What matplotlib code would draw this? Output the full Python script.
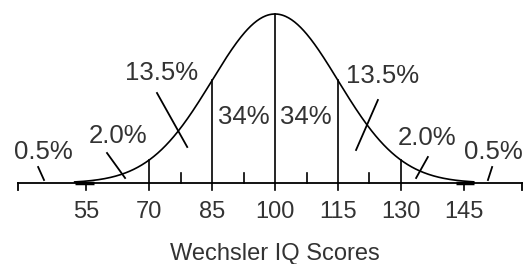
import numpy as np
import matplotlib.pyplot as plt

# distribution
mean = 100
sd = 15
peak = 169  # curve height above the axis, in axis units

# axis ticks
major_ticks = [55, 70, 85, 100, 115, 130, 145]
minor_ticks = [77.5, 92.5, 107.5, 122.5]
drop_lines = [70, 85, 100, 115, 130]

# labels: text, x, y
pct_text = ['0.5%', '2.0%', '13.5%', '34%', '34%', '13.5%', '2.0%', '0.5%']
pct_x = [44.8, 62.6, 72.9, 92.6, 107.3, 125.7, 136.2, 151.9]
pct_y = [31, 47, 110, 66, 66, 107, 45, 31]

# pointer strokes: (x0, y0, x1, y1)
ptr_x0 = [43.6, 60.0, 71.9, 124.5, 136.4, 151.7]
ptr_y0 = [16, 30, 90, 83, 26, 16]
ptr_x1 = [45.0, 64.3, 79.1, 119.3, 133.6, 150.7]
ptr_y1 = [3, 5, 36, 33, 5, 3]

fig = plt.figure(figsize=(5.23, 2.64), dpi=100)
ax = fig.add_axes([0, 0, 1, 1])
ax.set_xlim(34.52, 159.05)
ax.set_ylim(-81, 183)
ax.axis('off')

txt_color = '#333333'

# curve
x = np.linspace(52.3, 147.3, 400)
y = peak * np.exp(-0.5 * ((x - mean) / sd) ** 2)
ax.plot(x, y, color='black', lw=1.2)

# baseline with end ticks
x_left, x_right = 38.8, 158.8
ax.plot([x_left, x_right], [0, 0], color='black', lw=1.3)
ax.plot([x_left, x_left], [0, -7], color='black', lw=1.3)
ax.plot([x_right, x_right], [0, -7], color='black', lw=1.3)
# thicker stretch where the tails sit on the axis
ax.plot([52.3, 57], [0.5, 0.5], color='black', lw=2.5, solid_capstyle='butt')
ax.plot([143, 147.3], [0.5, 0.5], color='black', lw=2.5, solid_capstyle='butt')

# major ticks below the axis
for t in major_ticks:
    ax.plot([t, t], [0, -7], color='black', lw=1.2)
    ax.text(t, -29, str(t), ha='center', va='center', fontsize=17,
            family='Liberation Sans', color=txt_color)

# minor ticks above the axis
for t in minor_ticks:
    ax.plot([t, t], [0, 10], color='black', lw=1.2)

# vertical lines from the curve to the axis
for d in drop_lines:
    top = peak * np.exp(-0.5 * ((d - mean) / sd) ** 2)
    ax.plot([d, d], [0, top], color='black', lw=1.2)

for s, px, py in zip(pct_text, pct_x, pct_y):
    ax.text(px, py, s, ha='center', va='center', fontsize=18.5,
            family='Liberation Sans', color=txt_color)

for a, b, c, d in zip(ptr_x0, ptr_y0, ptr_x1, ptr_y1):
    ax.plot([a, c], [b, d], color='black', lw=1.3)

ax.text(100, -71, 'Wechsler IQ Scores', ha='center', va='center', fontsize=17,
        family='Liberation Sans', color=txt_color)

fig.savefig('out.png', dpi=100)
